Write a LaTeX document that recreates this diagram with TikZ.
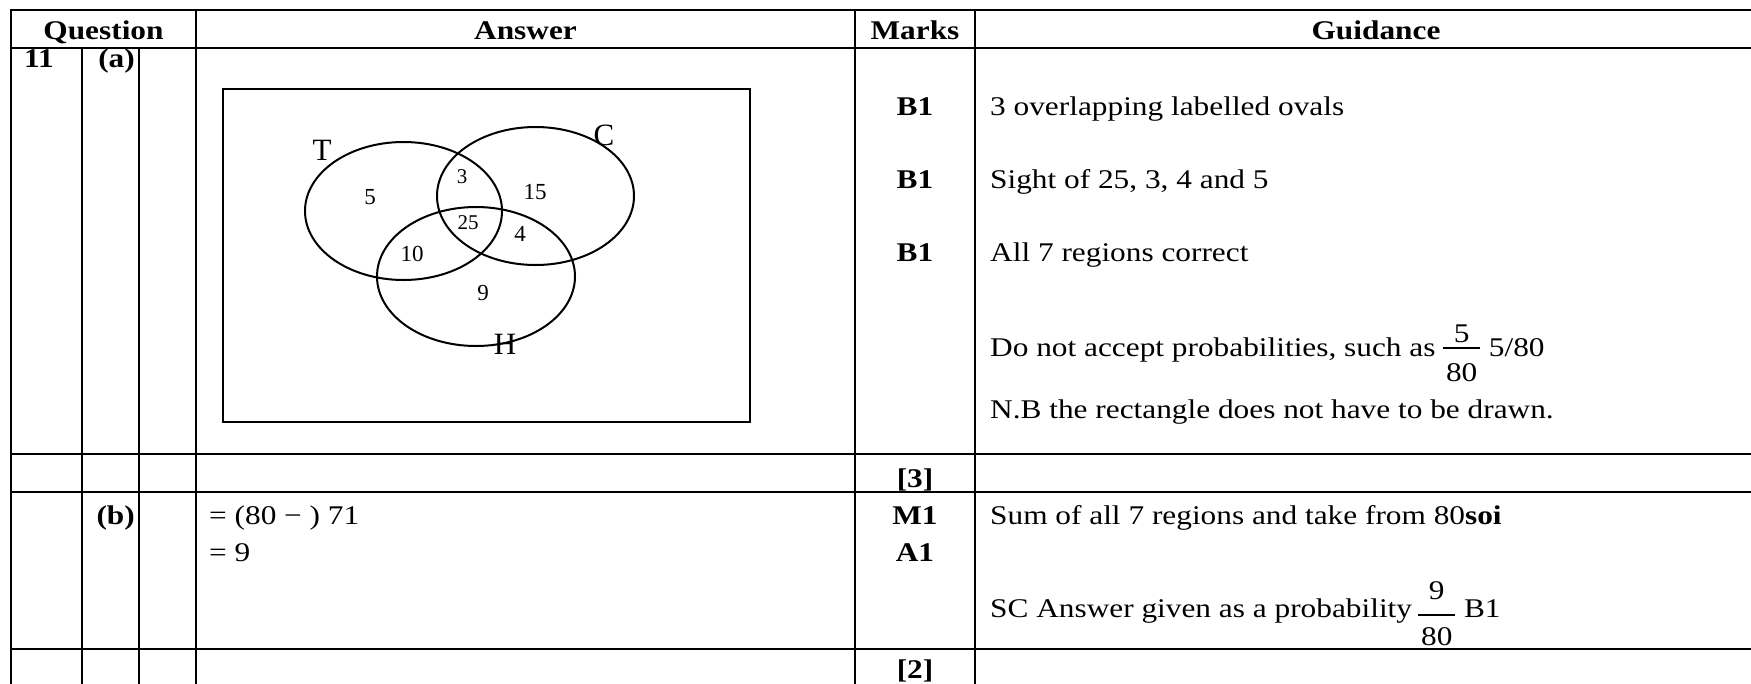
\documentclass[tikz,border=0pt]{standalone}
\usepackage{fontspec}
\setmainfont{Liberation Serif}[FakeStretch=1.16]
\newfontfamily\vennfont{Liberation Serif}
\usetikzlibrary{calc}
\begin{document}
\begin{tikzpicture}[x=1pt,y=-1pt,
  grid/.style={line width=2.2pt, line cap=rect, black},
  txt/.style={anchor=base west, inner sep=0pt, font=\fontsize{27}{32}\selectfont},
  btxt/.style={anchor=base west, inner sep=0pt, font=\fontsize{27}{32}\selectfont\bfseries},
  etxt/.style={anchor=base east, inner sep=0pt, font=\fontsize{27}{32}\selectfont\bfseries},
  mk/.style={anchor=base, inner sep=0pt, font=\fontsize{27}{32}\selectfont\bfseries},
  fnum/.style={inner sep=0pt, font=\fontsize{27}{32}\selectfont},
  vnum/.style={inner sep=0pt, font=\vennfont\fontsize{23}{26}\selectfont},
  vsmall/.style={inner sep=0pt, font=\vennfont\fontsize{21}{24}\selectfont},
  vlab/.style={inner sep=0pt, font=\vennfont\fontsize{31}{34}\selectfont},
  venn/.style={line width=2pt},
  fbar/.style={line width=1.5pt}]
\useasboundingbox (0,0) rectangle (1751,683);
% table grid
\draw[grid] (11,10) -- (1751,10);
\draw[grid] (11,48) -- (1751,48);
\draw[grid] (11,454) -- (1751,454);
\draw[grid] (11,492) -- (1751,492);
\draw[grid] (11,649) -- (1751,649);
\draw[grid] (11,10) -- (11,683);
\draw[grid] (82,48) -- (82,683);
\draw[grid] (139,48) -- (139,683);
\draw[grid] (196,10) -- (196,683);
\draw[grid] (855,10) -- (855,683);
\draw[grid] (975,10) -- (975,683);
% header
\node[mk] (hq) at (103.5,39) {Question};
\node[mk] (ha) at (525.5,39) {Answer};
\node[mk] (hm) at (915,39) {Marks};
\node[mk] (hg) at (1376,39) {Guidance};
% row (a)
\node[btxt] (q11) at (24,67) {11};
\node[etxt] (qa) at (135,67) {(a)};
% venn
\draw[line width=2pt] (223,89) rectangle (750,422);
\draw[venn] (403.5,211) ellipse [x radius=98.5, y radius=69];
\draw[venn] (535.5,196) ellipse [x radius=98.5, y radius=69];
\draw[venn] (476,276.5) ellipse [x radius=99, y radius=69.5];
\node[vlab] (lT) at (322,150) {T};
\node[vlab] (lC) at (604,135) {C};
\node[vlab] (lH) at (505,344) {H};
\node[vnum] (r5) at (370,197) {5};
\node[vsmall] (r3) at (462,177) {3};
\node[vnum] (r15) at (535,192) {15};
\node[vsmall] (r25) at (468,223) {25};
\node[vnum] (r4) at (520,234) {4};
\node[vnum] (r10) at (412,254) {10};
\node[vnum] (r9) at (483,293) {9};
% marks (a)
\node[mk] (ma1) at (915,115) {B1};
\node[mk] (ma2) at (915,188) {B1};
\node[mk] (ma3) at (915,261) {B1};
\node[mk] (m3) at (915,487) {[3]};
% guidance (a)
\node[txt] (g1) at (990,115) {3 overlapping labelled ovals};
\node[txt] (g2) at (990,188) {Sight of 25, 3, 4 and 5};
\node[txt] (g3) at (990,261) {All 7 regions correct};
\node[txt] (g4) at (990,356) {Do not accept probabilities, such as};
\coordinate (fa) at ($(g4.base east)+(26,0)$);
\node[fnum] (fan) at ($(fa)+(0,-22)$) {5};
\node[fnum] (fad) at ($(fa)+(0,17)$) {80};
\draw[fbar] ($(fa)+(-18.5,-8)$) -- ($(fa)+(18.5,-8)$);
\node[txt] (g4b) at ($(fa)+(27,0)$) {5/80};
\node[txt] (g5) at (990,418) {N.B the rectangle does not have to be drawn.};
% row (b)
\node[etxt] (qb) at (135,524) {(b)};
\node[txt] (b1) at (209,524) {= (80 − ) 71};
\node[txt] (b2) at (209,561) {= 9};
\node[mk] (mM) at (915,524) {M1};
\node[mk] (mA) at (915,561) {A1};
\node[txt] (g6) at (990,524) {Sum of all 7 regions and take from 80\textbf{soi}};
\node[txt] (g7) at (990,617) {SC Answer given as a probability};
\coordinate (fb) at ($(g7.base east)+(24.5,0)$);
\node[fnum] (fbn) at ($(fb)+(0,-26)$) {9};
\node[fnum] (fbd) at ($(fb)+(0,20)$) {80};
\draw[fbar] ($(fb)+(-18.5,-2)$) -- ($(fb)+(18.5,-2)$);
\node[txt] (g7b) at ($(fb)+(27,0)$) {B1};
\node[mk] (m2) at (915,678) {[2]};
\end{tikzpicture}
\end{document}
